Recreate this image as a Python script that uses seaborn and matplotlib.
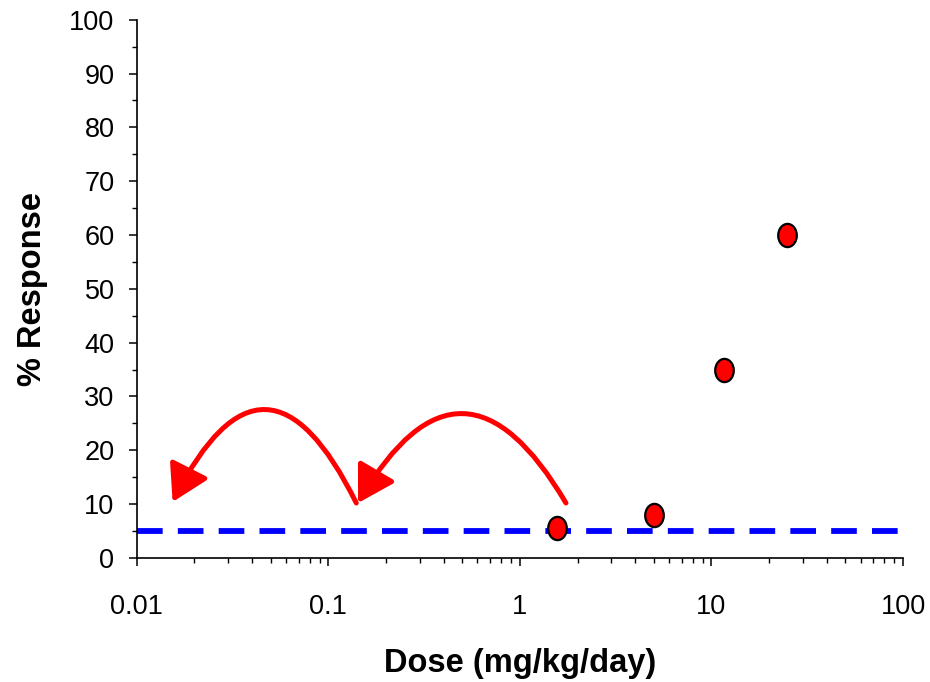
import numpy as np
import pandas as pd
import matplotlib
matplotlib.use('Agg')
import matplotlib.pyplot as plt
from matplotlib.path import Path
from matplotlib.transforms import Affine2D
from matplotlib.ticker import FixedLocator, LogLocator, NullFormatter
import seaborn as sns

# data
dose = [1.56, 5.0, 11.6, 24.8]
response = [5.6, 8.0, 35.0, 60.0]
baseline = 5
x_ticks = [0.01, 0.1, 1, 10, 100]
x_ticklabels = ['0.01', '0.1', '1', '10', '100']
y_ticks = list(range(0, 101, 10))

# curved arrows: (start, tip, bend)
arrow_starts = [(1.74, 10.2), (0.14, 10.2)]
arrow_tips = [(0.143, 10.2), (0.0154, 10.4)]
arrow_rads = [0.85, 1.0]

sns.set_style('ticks')
plt.rcParams['font.family'] = ['Liberation Sans', 'DejaVu Sans']
plt.rcParams['text.color'] = 'black'
plt.rcParams['axes.labelcolor'] = 'black'
plt.rcParams['xtick.color'] = 'black'
plt.rcParams['ytick.color'] = 'black'

df = pd.DataFrame({'dose': dose, 'response': response})

fig = plt.figure(figsize=(9.3, 6.82), dpi=100)
ax = fig.add_axes([0.147, 0.182, 0.824, 0.789])

# slightly tall oval marker like the original
oval = Affine2D().scale(0.8, 1.0).transform_path(Path.unit_circle())

ax.axhline(baseline, color='#0000ff', lw=4.2, dashes=(4.4, 2.6), zorder=2)

sns.scatterplot(data=df, x='dose', y='response', ax=ax, marker=oval, s=280,
                color='#ff0000', edgecolor='black', linewidth=1.6, zorder=3,
                legend=False)

for start, tip, rad in zip(arrow_starts, arrow_tips, arrow_rads):
    ax.annotate('', xy=tip, xytext=start,
                arrowprops=dict(arrowstyle='-|>,head_length=1.1,head_width=0.65',
                                connectionstyle='arc3,rad=%s' % rad,
                                color='#ff0000', lw=3.6, shrinkA=0, shrinkB=0,
                                mutation_scale=20),
                zorder=4)

ax.set_xscale('log')
ax.set_xlim(0.01, 100)
ax.set_ylim(0, 100)
ax.set_xticks(x_ticks)
ax.set_xticklabels(x_ticklabels)
ax.xaxis.set_minor_locator(LogLocator(base=10, subs=np.arange(2, 10)))
ax.xaxis.set_minor_formatter(NullFormatter())
ax.set_yticks(y_ticks)
ax.yaxis.set_minor_locator(FixedLocator(list(range(5, 100, 10))))

ax.tick_params(axis='x', which='major', length=6, width=1.1, labelsize=19.5, pad=20, direction='out')
ax.tick_params(axis='x', which='minor', length=3.5, width=1.0, direction='out')
ax.tick_params(axis='y', which='major', length=6, width=1.1, labelsize=19.5, pad=10, direction='out')
ax.tick_params(axis='y', which='minor', length=3.5, width=1.0, direction='out')

for s in ['left', 'bottom']:
    ax.spines[s].set_linewidth(1.2)
    ax.spines[s].set_color('black')
sns.despine(ax=ax)

ax.set_xlabel('Dose (mg/kg/day)', fontsize=23.5, fontweight='bold', labelpad=20)
ax.set_ylabel('% Response', fontsize=23.5, fontweight='bold', labelpad=15)
ax.grid(False)

plt.savefig('out.png', dpi=100)
plt.close()
